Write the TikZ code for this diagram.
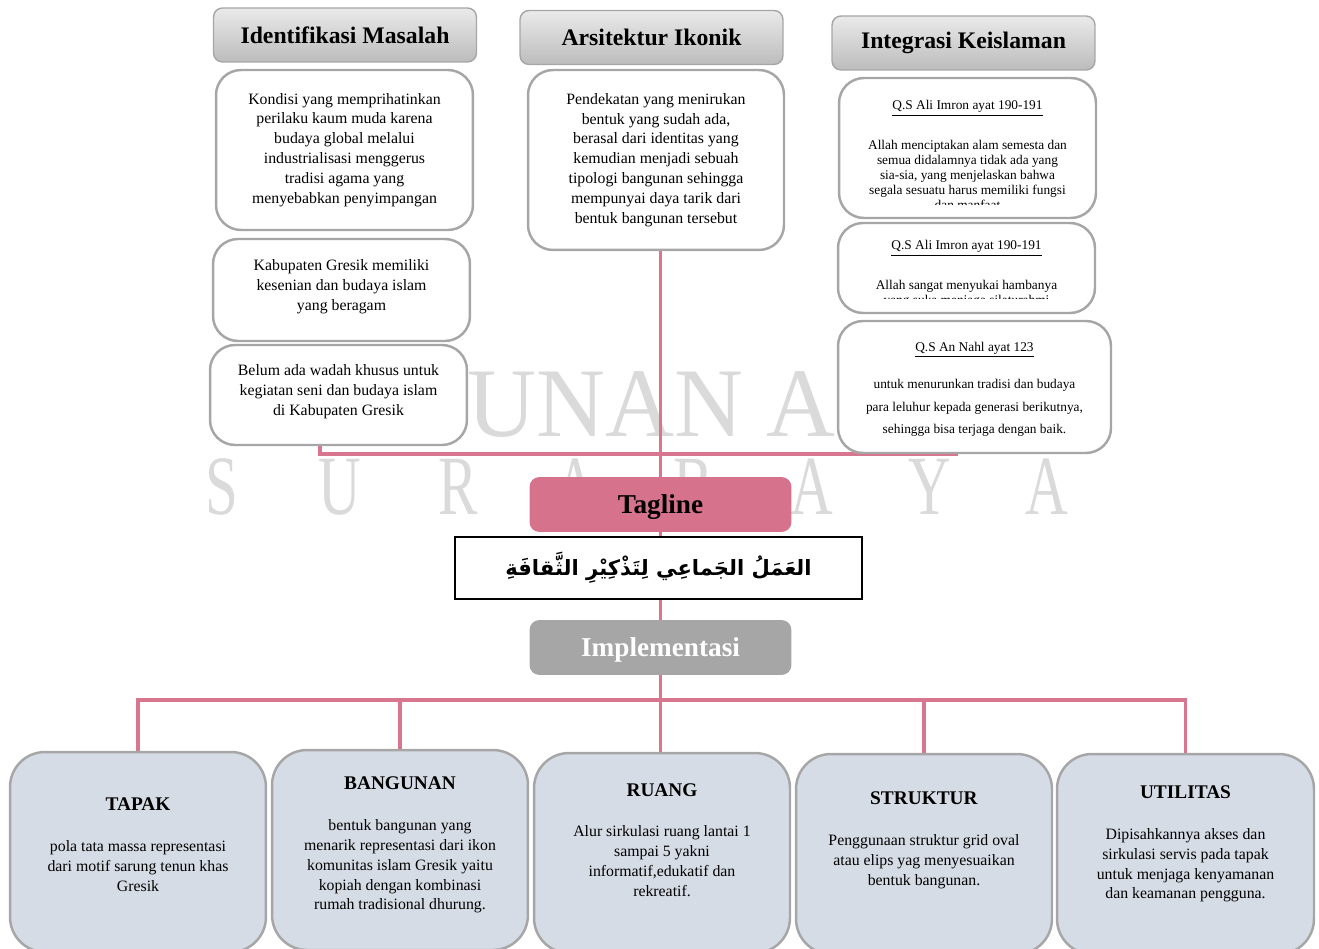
\documentclass[tikz,border=0pt]{standalone}
\usepackage{fontspec}
\setmainfont{Liberation Serif}
\newfontfamily\arabicfont[Script=Arabic]{DejaVu Sans}
\TeXXeTstate=1
\usepackage{tikz}
\usetikzlibrary{positioning, backgrounds, calc}
\usepackage{xcolor}

\definecolor{pinkline}{RGB}{216,118,143}
\definecolor{tagpink}{RGB}{214,114,139}
\definecolor{edgegray}{RGB}{166,166,166}
\definecolor{implfill}{RGB}{214,220,229}
\definecolor{headtop}{RGB}{234,234,234}
\definecolor{headbot}{RGB}{188,188,188}
\definecolor{wmgray}{RGB}{218,218,218}

\begin{document}
\begin{tikzpicture}[x=0.02cm, y=-0.02cm]

% Define styles
\tikzstyle{header} = [rectangle, draw=edgegray, line width=0.8pt, top color=headtop, bottom color=headbot, rounded corners=0.18cm, minimum width=5.26cm, minimum height=1.08cm, font=\fontsize{13.5}{16}\selectfont\bfseries]
\tikzstyle{textbox} = [rectangle, draw=edgegray, line width=1.4pt, fill=white, rounded corners=0.5cm, minimum width=5.14cm, align=center, font=\fontsize{9}{11.3}\selectfont]
\tikzstyle{ayat} = [align=center, inner sep=0pt, font=\fontsize{7.6}{8.5}\selectfont]
\tikzstyle{label} = [rectangle, rounded corners=0.2cm, minimum width=5.24cm, minimum height=1.1cm, text depth=0pt, font=\fontsize{15.5}{18}\selectfont\bfseries]
\tikzstyle{implbox} = [rectangle, draw=edgegray, line width=1.4pt, fill=implfill, rounded corners=0.7cm, minimum width=5.12cm, minimum height=4.0cm]
\tikzstyle{impltext} = [align=center, font=\fontsize{9}{11.3}\selectfont]
\tikzstyle{wmark} = [text=wmgray, inner sep=0pt]
\tikzstyle{conn} = [draw=pinkline, line width=2.2pt]

\useasboundingbox (0,0) rectangle (1319,949);
\clip (0,0) rectangle (1319,949);

% Headers
\node [header] (ident) at (345,35) {Identifikasi Masalah};
\node [header] (arsi) at (651.5,37.5) {Arsitektur Ikonik};
\node [header] (integ) at (963.5,43) {Integrasi Keislaman};

% Identifikasi masalah
\node [textbox, minimum height=3.2cm] (lb1) at (344.5,150) {Kondisi yang memprihatinkan\\perilaku kaum muda karena\\budaya global melalui\\industrialisasi menggerus\\tradisi agama yang\\menyebabkan penyimpangan};
\node [textbox, minimum height=2.04cm] (lb2) at (341.5,290) {Kabupaten Gresik memiliki\\kesenian dan budaya islam\\yang beragam\\[-6pt]};
\node [textbox, minimum height=2.0cm] (lb3) at (338.5,395) {Belum ada wadah khusus untuk\\kegiatan seni dan budaya islam\\di Kabupaten Gresik\\[-6pt]};

% Arsitektur ikonik
\node [textbox, minimum width=5.12cm, minimum height=3.6cm] (ik) at (656,160) {Pendekatan yang menirukan\\bentuk yang sudah ada,\\berasal dari identitas yang\\kemudian menjadi sebuah\\tipologi bangunan sehingga\\mempunyai daya tarik dari\\bentuk bangunan tersebut};

% Integrasi keislaman
\node [textbox, minimum height=2.8cm] (rb1) at (967.5,148) {};
\node [textbox, minimum height=1.8cm] (rb2) at (966.5,268) {};
\node [textbox, minimum width=5.46cm, minimum height=2.64cm] (rb3) at (974.5,387) {};
\begin{scope}
\clip (830,80) rectangle (1100,205);
\node [ayat] (ayat1) at (967.5,155) {\underline{Q.S Ali Imron ayat 190-191}\\[13pt]Allah menciptakan alam semesta dan\\semua didalamnya tidak ada yang\\sia-sia, yang menjelaskan bahwa\\segala sesuatu harus memiliki fungsi\\dan manfaat};
\end{scope}
\begin{scope}
\clip (830,225) rectangle (1100,299);
\node [ayat] (ayat2) at (966.5,274) {\underline{Q.S Ali Imron ayat 190-191}\\[13pt]Allah sangat menyukai hambanya\\yang suka menjaga silaturahmi};
\end{scope}
\node [ayat, font=\fontsize{7.6}{13}\selectfont] (ayat3) at (974.5,389.5) {\underline{Q.S An Nahl ayat 123}\\[8pt]untuk menurunkan tradisi dan budaya\\para leluhur kepada generasi berikutnya,\\sehingga bisa terjaga dengan baik.};

% Tagline
\node [label, fill=tagpink] (tag) at (660.5,504.5) {Tagline};
\node [rectangle, draw=black, line width=1.4pt, fill=white, minimum width=8.14cm, minimum height=1.24cm, font=\arabicfont\bfseries\fontsize{12}{15}\selectfont] (arab) at (658.5,568) {\beginR العَمَلُ الجَماعِي لِتَذْكِيْرِ الثَّقافَةِ\endR};
\node [label, fill=edgegray, text=white] (impl) at (660.5,647.5) {Implementasi};

% Implementasi
\node [implbox] (tapak) at (138,852) {};
\node [implbox] (bangunan) at (400,850) {};
\node [implbox] (ruang) at (662,853) {};
\node [implbox] (struktur) at (924,854) {};
\node [implbox, minimum width=5.14cm] (utilitas) at (1185.5,854) {};

\node [impltext] at (138,845) {\textbf{\fontsize{11}{13}\selectfont TAPAK}\\[12pt]pola tata massa representasi\\dari motif sarung tenun khas\\Gresik};
\node [impltext] at (400,845) {\textbf{\fontsize{11}{13}\selectfont BANGUNAN}\\[12pt]bentuk bangunan yang\\menarik representasi dari ikon\\komunitas islam Gresik yaitu\\kopiah dengan kombinasi\\rumah tradisional dhurung.};
\node [impltext] at (662,840) {\textbf{\fontsize{11}{13}\selectfont RUANG}\\[12pt]Alur sirkulasi ruang lantai 1\\sampai 5 yakni\\informatif,edukatif dan\\rekreatif.};
\node [impltext] at (924,840) {\textbf{\fontsize{11}{13}\selectfont STRUKTUR}\\[12pt]Penggunaan struktur grid oval\\atau elips yag menyesuaikan\\bentuk bangunan.};
\node [impltext] at (1185.5,844) {\textbf{\fontsize{11}{13}\selectfont UTILITAS}\\[12pt]Dipisahkannya akses dan\\sirkulasi servis pada tapak\\untuk menjaga kenyamanan\\dan keamanan pengguna.};

% Watermark and connectors
\begin{scope}[on background layer]
\node [wmark, anchor=base west, xscale=0.97, font=\fontsize{56}{56}\selectfont] (wm1) at (467,437) {UNAN A};
\foreach \l [count=\i from 0] in {S,U,R,A,B,A,Y,A}
  \node [wmark, xscale=0.7, font=\fontsize{48}{48}\selectfont] at (222+117.9*\i,487) {\l};

\draw [conn] (tag.north |- ik.south) -- (tag.north);
\draw [conn] ([xshift=-0.37cm]lb3.south) |- ([xshift=-0.34cm]rb3.south);
\draw [conn] (tag.south) -- (tag.south |- arab.north);
\draw [conn] (impl.north |- arab.south) -- (impl.north);
\path (impl.south) ++(0,25) coordinate (hub);
\draw [conn] (impl.south) -- (hub) -- (hub |- ruang.north);
\foreach \b in {tapak,bangunan,struktur,utilitas}
  \draw [conn] (hub) -| (\b.north);
\end{scope}

\end{tikzpicture}
\end{document}
